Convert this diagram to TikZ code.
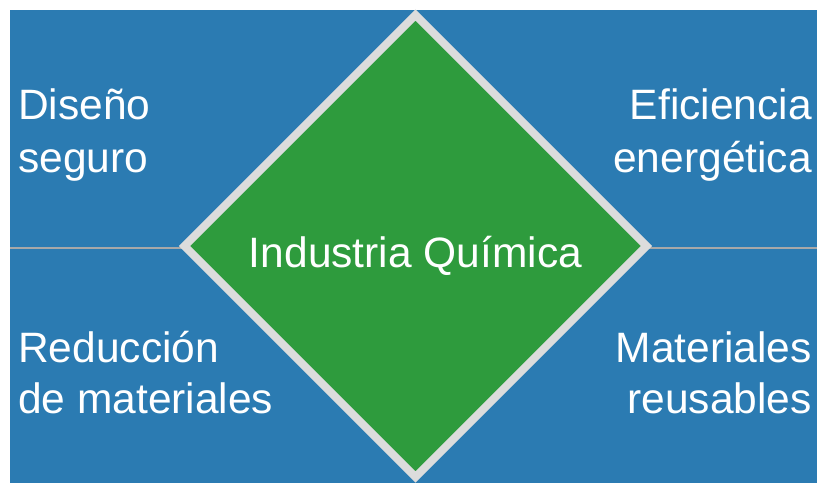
\documentclass[tikz,border=0pt]{standalone}
\usepackage{fontspec}
\setmainfont{Liberation Sans}
\definecolor{bluebg}{HTML}{2B7BB2}
\definecolor{greend}{HTML}{2E9B3D}
\definecolor{rim}{HTML}{DCDCDC}
\definecolor{sep}{HTML}{A8A8A8}
\begin{document}
\begin{tikzpicture}[x=1pt,y=-1pt,
  lbl/.style={text=white,font=\fontsize{42.5}{50}\selectfont,inner sep=0pt}]
\useasboundingbox (0,0) rectangle (817,483);
\fill[white] (0,0) rectangle (817,483);
\fill[bluebg] (10,10) rectangle (817,483);
\draw[sep,line width=2.5pt] (10,248) -- (817,248);
\coordinate (c) at (415.5,246);
\filldraw[fill=greend,draw=rim,line width=8pt,line join=miter]
  (415.5,15) -- (646.5,246) -- (415.5,477) -- (184.5,246) -- cycle;
\node[lbl,anchor=base] (center) at (415.5,267) {Industria Química};
\node[lbl,anchor=base west] (a1) at (18,119) {Diseño};
\node[lbl,anchor=base west] (a2) at (18,172) {seguro};
\node[lbl,anchor=base east] (b1) at (812,119) {Eficiencia};
\node[lbl,anchor=base east] (b2) at (812,172) {energética};
\node[lbl,anchor=base west] (c1) at (18,362) {Reducción};
\node[lbl,anchor=base west] (c2) at (18,413) {de materiales};
\node[lbl,anchor=base east] (d1) at (812,362) {Materiales};
\node[lbl,anchor=base east] (d2) at (812,413) {reusables};
\end{tikzpicture}
\end{document}
